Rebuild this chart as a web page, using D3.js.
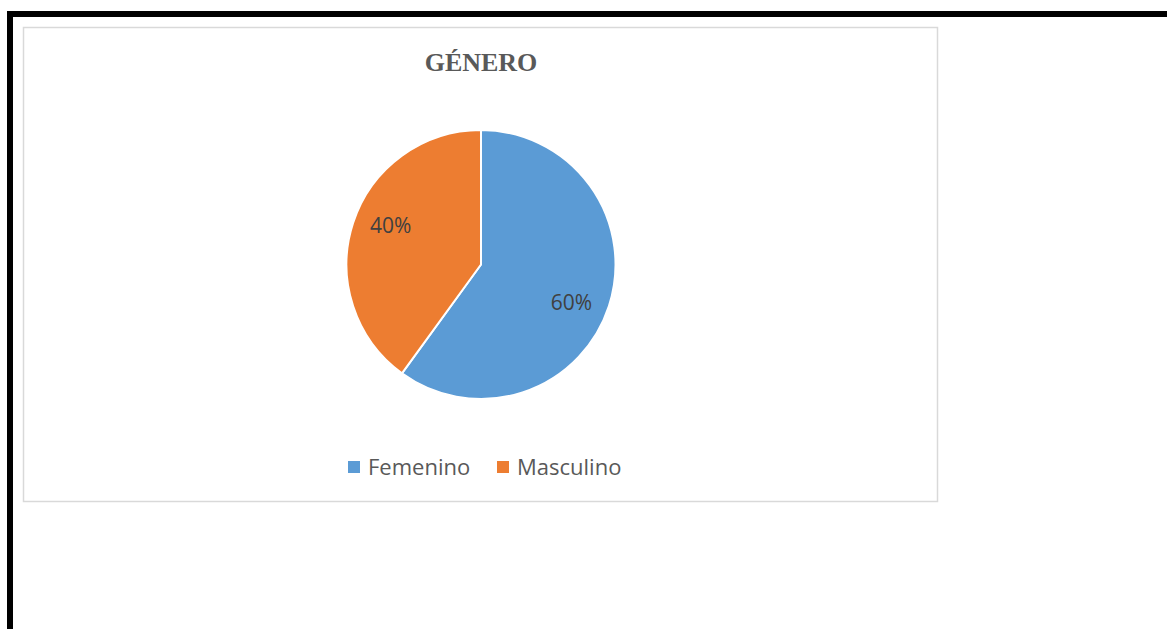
<!DOCTYPE html>
<html>
<head>
<meta charset="utf-8">
<script src="https://cdn.jsdelivr.net/npm/d3@7"></script>
<style>
  html, body { margin: 0; padding: 0; background: #fff; }
  svg { display: block; }
</style>
</head>
<body>
<svg id="chart" width="1167" height="629"></svg>
<script>
const categories = ["Femenino", "Masculino"];
const values = [60, 40];
const labels = ["60%", "40%"];
const colors = ["#5B9BD5", "#ED7D31"];
const title = "GÉNERO";

const svg = d3.select("#chart");

// page frame (black rules)
svg.append("rect").attr("x", 7).attr("y", 11).attr("width", 1160).attr("height", 6).attr("fill", "#000");
svg.append("rect").attr("x", 7).attr("y", 11).attr("width", 6).attr("height", 618).attr("fill", "#000");

// chart area border
svg.append("rect").attr("x", 23.5).attr("y", 27.5).attr("width", 914).attr("height", 474)
  .attr("fill", "#fff").attr("stroke", "#d9d9d9").attr("stroke-width", 1.5);

// title
svg.append("text").attr("x", 481).attr("y", 71).attr("text-anchor", "middle")
  .attr("font-family", "'Liberation Serif', 'Times New Roman', serif")
  .attr("font-weight", "bold").attr("font-size", 26).attr("fill", "#595959")
  .text(title);

const cx = 481, cy = 264.5, r = 134.5;
const pie = d3.pie().sort(null).value(d => d)(values);
const arc = d3.arc().innerRadius(0).outerRadius(r);
const labelArc = d3.arc().innerRadius(r * 0.73).outerRadius(r * 0.73);
const shift = 5 * Math.PI / 180;

const g = svg.append("g").attr("transform", `translate(${cx},${cy})`);
g.selectAll("path").data(pie).enter().append("path")
  .attr("d", arc).attr("fill", (d, i) => colors[i])
  .attr("stroke", "#fff").attr("stroke-width", 2).attr("stroke-linejoin", "round");

g.selectAll("text.lbl").data(pie).enter().append("text").attr("class", "lbl")
  .attr("transform", d => {
    const c = labelArc.centroid({startAngle: d.startAngle + shift, endAngle: d.endAngle + shift});
    return `translate(${c[0]},${c[1]})`;
  })
  .attr("text-anchor", "middle").attr("dy", "0.35em")
  .attr("font-family", "'Open Sans', 'Noto Sans', sans-serif").attr("font-size", 21)
  .attr("fill", "#404040")
  .text((d, i) => labels[i]);

// legend
const legendX = [348, 497];
const lg = svg.append("g");
categories.forEach((c, i) => {
  lg.append("rect").attr("x", legendX[i]).attr("y", 461).attr("width", 12).attr("height", 12).attr("fill", colors[i]);
  lg.append("text").attr("x", legendX[i] + 20).attr("y", 475)
    .attr("font-family", "'Open Sans', 'Noto Sans', sans-serif").attr("font-size", 22)
    .attr("fill", "#595959").text(c);
});
</script>
</body>
</html>
